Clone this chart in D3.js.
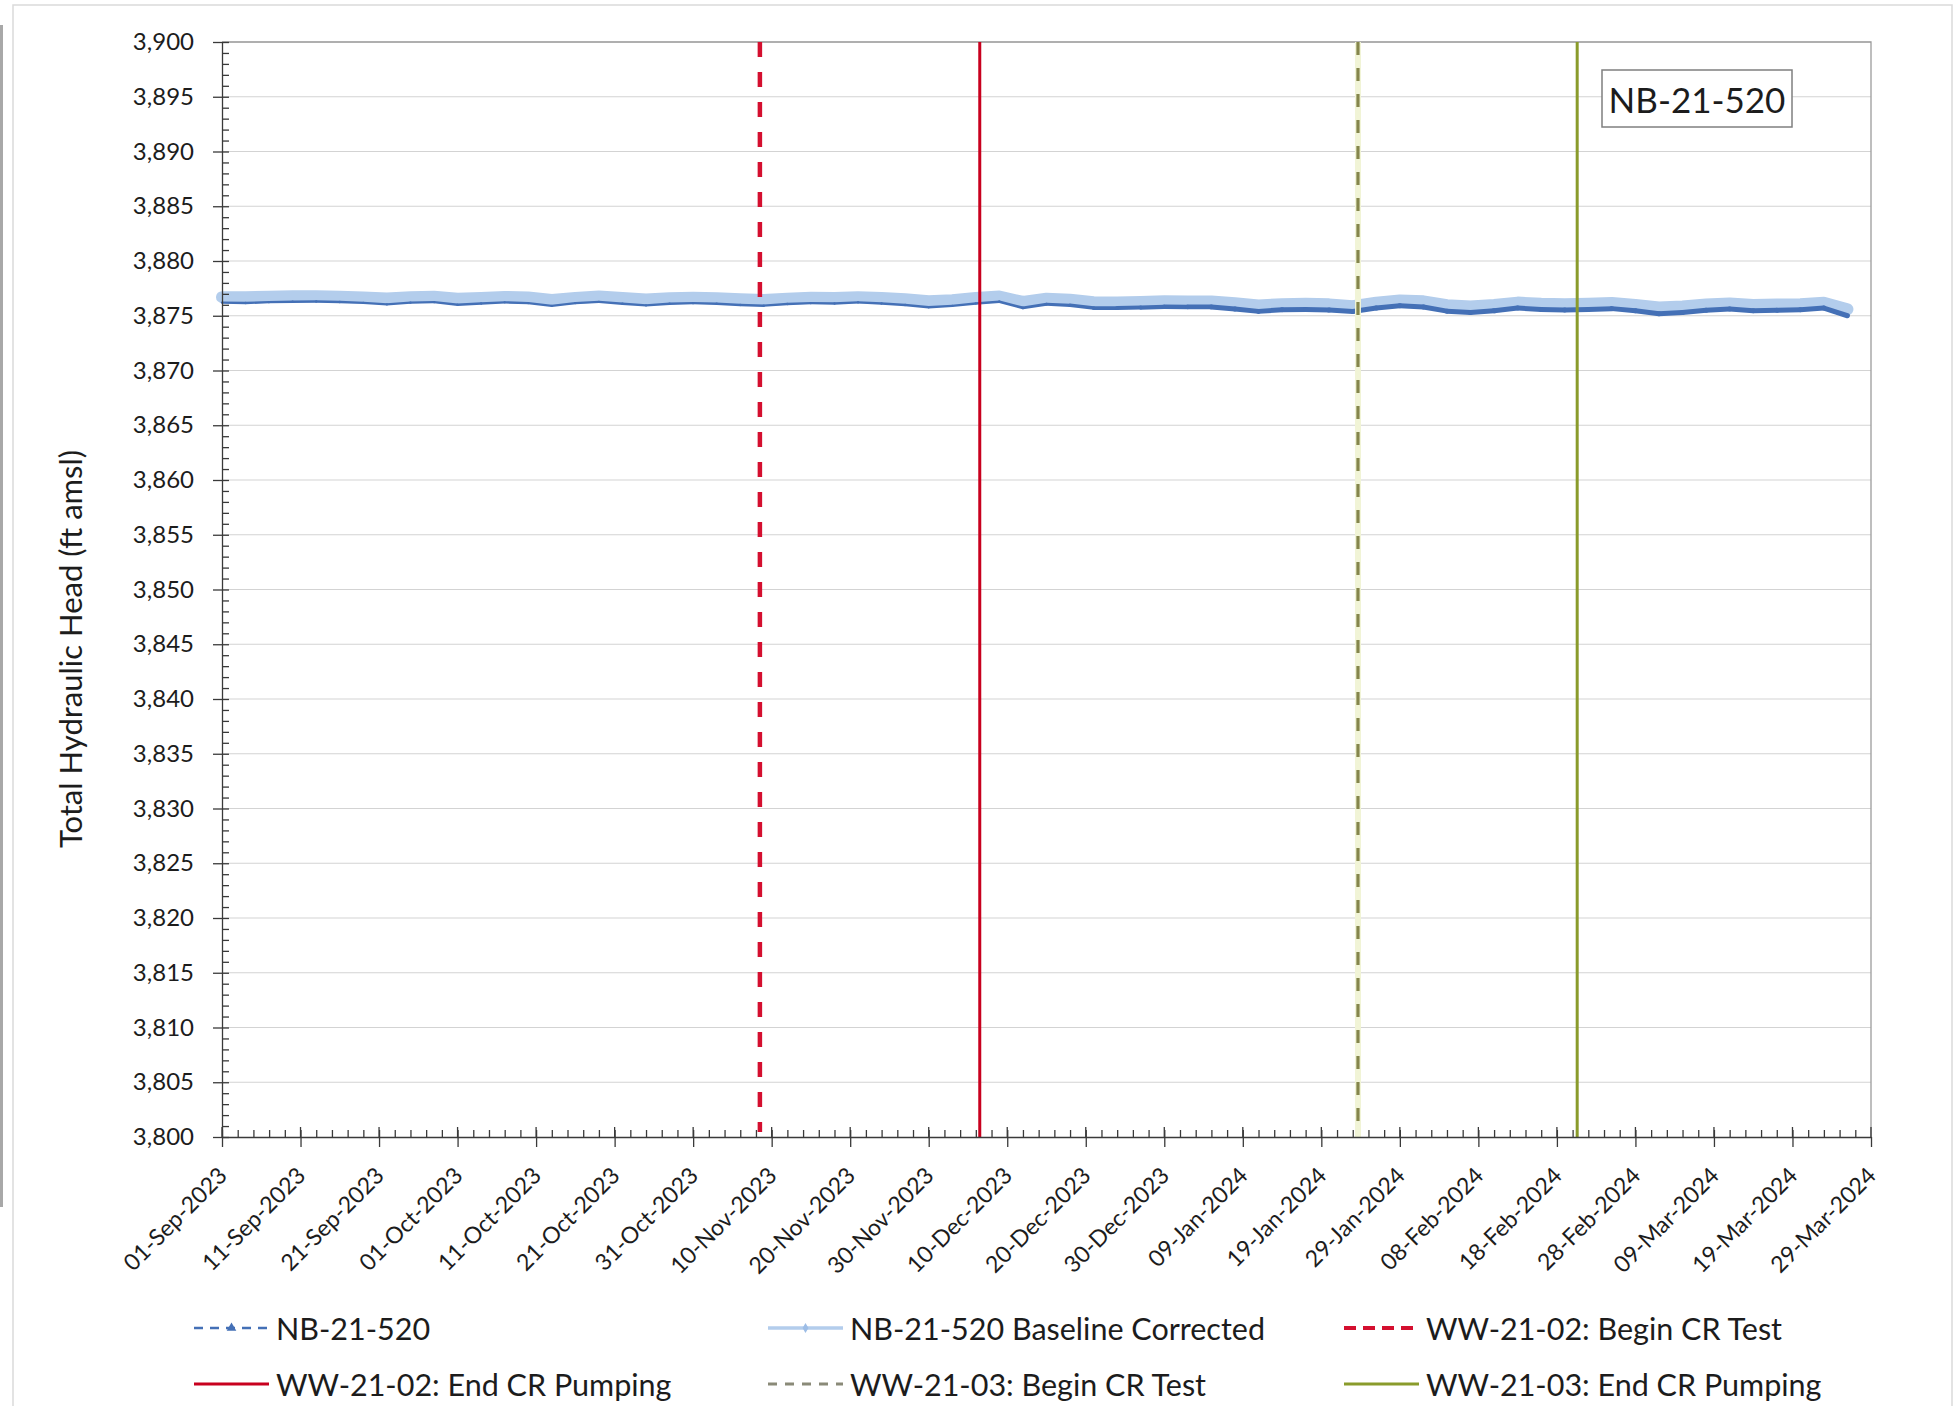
<!DOCTYPE html>
<html>
<head>
<meta charset="utf-8">
<script src="https://cdn.jsdelivr.net/npm/d3@7"></script>
<style>
  html, body { margin: 0; padding: 0; background: #ffffff; }
  svg { display: block; }
  text { font-family: Lato, "Open Sans", sans-serif; fill: #1c1c1c; }
</style>
</head>
<body>
<svg id="chart" width="1960" height="1406"></svg>
<script>
// ---- Data -------------------------------------------------------------
// Sample dates (every 3 days) for the NB-21-520 hydrograph
const sampleDates = [
  "2023-09-01","2023-09-04","2023-09-07","2023-09-10","2023-09-13","2023-09-16","2023-09-19","2023-09-22",
  "2023-09-25","2023-09-28","2023-10-01","2023-10-04","2023-10-07","2023-10-10","2023-10-13","2023-10-16",
  "2023-10-19","2023-10-22","2023-10-25","2023-10-28","2023-10-31","2023-11-03","2023-11-06","2023-11-09",
  "2023-11-12","2023-11-15","2023-11-18","2023-11-21","2023-11-24","2023-11-27","2023-11-30","2023-12-03",
  "2023-12-06","2023-12-09","2023-12-12","2023-12-15","2023-12-18","2023-12-21","2023-12-24","2023-12-27",
  "2023-12-30","2024-01-02","2024-01-05","2024-01-08","2024-01-11","2024-01-14","2024-01-17","2024-01-20",
  "2024-01-23","2024-01-26","2024-01-29","2024-02-01","2024-02-04","2024-02-07","2024-02-10","2024-02-13",
  "2024-02-16","2024-02-19","2024-02-22","2024-02-25","2024-02-28","2024-03-02","2024-03-05","2024-03-08",
  "2024-03-11","2024-03-14","2024-03-17","2024-03-20","2024-03-23","2024-03-26"
];

// Total hydraulic head, ft amsl
const nbHead = [
  3876.20,3876.16,3876.24,3876.28,3876.30,3876.25,3876.18,3876.04,
  3876.20,3876.24,3876.00,3876.12,3876.22,3876.15,3875.90,3876.15,
  3876.27,3876.10,3875.95,3876.10,3876.15,3876.10,3875.98,3875.92,
  3876.07,3876.15,3876.12,3876.22,3876.12,3875.98,3875.78,3875.90,
  3876.12,3876.28,3875.72,3876.05,3875.95,3875.70,3875.70,3875.75,
  3875.82,3875.80,3875.80,3875.62,3875.40,3875.55,3875.58,3875.52,
  3875.38,3875.70,3875.92,3875.80,3875.42,3875.30,3875.45,3875.70,
  3875.58,3875.52,3875.58,3875.65,3875.45,3875.18,3875.30,3875.50,
  3875.62,3875.45,3875.50,3875.55,3875.70,3875.00
];

const nbBaselineCorrected = [
  3876.70,3876.68,3876.74,3876.78,3876.78,3876.74,3876.66,3876.58,
  3876.68,3876.74,3876.55,3876.62,3876.72,3876.66,3876.45,3876.62,
  3876.75,3876.62,3876.48,3876.60,3876.65,3876.60,3876.50,3876.44,
  3876.56,3876.64,3876.62,3876.70,3876.62,3876.50,3876.32,3876.42,
  3876.62,3876.76,3876.26,3876.56,3876.46,3876.24,3876.22,3876.26,
  3876.32,3876.30,3876.30,3876.14,3875.94,3876.06,3876.10,3876.04,
  3875.88,3876.20,3876.40,3876.32,3875.96,3875.85,3875.98,3876.20,
  3876.10,3876.05,3876.10,3876.16,3875.98,3875.75,3875.85,3876.02,
  3876.12,3875.98,3876.02,3876.06,3876.18,3875.60
];

const seriesNames = ["NB-21-520", "NB-21-520 Baseline Corrected"];

// Pumping test events
const eventNames = [
  "WW-21-02: Begin CR Test",
  "WW-21-02: End CR Pumping",
  "WW-21-03: Begin CR Test",
  "WW-21-03: End CR Pumping"
];
const eventDates = ["2023-11-08T12:00", "2023-12-06T12:00", "2024-01-23T16:00", "2024-02-20T14:00"];

// Axis ticks
const xTickLabels = [
  "01-Sep-2023","11-Sep-2023","21-Sep-2023","01-Oct-2023","11-Oct-2023","21-Oct-2023","31-Oct-2023",
  "10-Nov-2023","20-Nov-2023","30-Nov-2023","10-Dec-2023","20-Dec-2023","30-Dec-2023","09-Jan-2024",
  "19-Jan-2024","29-Jan-2024","08-Feb-2024","18-Feb-2024","28-Feb-2024","09-Mar-2024","19-Mar-2024",
  "29-Mar-2024"
];
const yTickValues = [3800,3805,3810,3815,3820,3825,3830,3835,3840,3845,3850,
                     3855,3860,3865,3870,3875,3880,3885,3890,3895,3900];

const wellLabel = "NB-21-520";
const yTitle = "Total Hydraulic Head (ft amsl)";

// ---- Layout -------------------------------------------------------------
const plot = { left: 222, right: 1871, top: 42, bottom: 1137 };
const parseTick = d3.timeParse("%d-%b-%Y");
const parseIso = d3.isoParse;
const tickDates = xTickLabels.map(parseTick);

const x = d3.scaleTime()
  .domain([tickDates[0], tickDates[tickDates.length - 1]])
  .range([plot.left, plot.right]);
const y = d3.scaleLinear()
  .domain([yTickValues[0], yTickValues[yTickValues.length - 1]])
  .range([plot.bottom, plot.top]);

const svg = d3.select("#chart");

// Outer chart frame and the grey strip along the left edge of the sheet
svg.append("rect")
  .attr("x", 13).attr("y", 5).attr("width", 1939).attr("height", 1440)
  .attr("fill", "none").attr("stroke", "#dadada").attr("stroke-width", 1.5);
svg.append("line")
  .attr("x1", 1.5).attr("x2", 1.5).attr("y1", 25).attr("y2", 1207)
  .attr("stroke", "#a8a8a8").attr("stroke-width", 3);

// Horizontal gridlines
svg.append("g").selectAll("line")
  .data(yTickValues.slice(1))
  .join("line")
  .attr("x1", plot.left).attr("x2", plot.right)
  .attr("y1", d => y(d)).attr("y2", d => y(d))
  .attr("stroke", "#d3d3d3").attr("stroke-width", 1.2);

// Plot area border (top and right)
svg.append("path")
  .attr("d", `M${plot.left},${plot.top}H${plot.right}V${plot.bottom}`)
  .attr("fill", "none").attr("stroke", "#9c9c9c").attr("stroke-width", 1.3);

// ---- Series -------------------------------------------------------------
const dates = sampleDates.map(parseIso);

const baselineLine = d3.line()
  .x((d, i) => x(dates[i]))
  .y(d => y(d));

svg.append("path")
  .datum(nbBaselineCorrected)
  .attr("d", baselineLine)
  .attr("fill", "none")
  .attr("stroke", "#b3cdec")
  .attr("stroke-width", 12)
  .attr("stroke-linejoin", "round")
  .attr("stroke-linecap", "round");

// The measured record is drawn segment by segment; it reads heavier from December on
const widthScale = d3.scaleTime()
  .domain([parseIso("2023-12-05"), parseIso("2024-01-05")])
  .range([2.4, 5])
  .clamp(true);

const segs = d3.pairs(d3.range(nbHead.length));
svg.append("g").selectAll("line")
  .data(segs)
  .join("line")
  .attr("x1", d => x(dates[d[0]])).attr("y1", d => y(nbHead[d[0]]))
  .attr("x2", d => x(dates[d[1]])).attr("y2", d => y(nbHead[d[1]]))
  .attr("stroke", "#4470b6")
  .attr("stroke-width", d => widthScale(dates[d[0]]))
  .attr("stroke-linecap", "round");

// ---- Event lines --------------------------------------------------------
const eventStyles = [
  { color: "#d40f2f", width: 4.5, dash: "15,15", halo: null },
  { color: "#c8001e", width: 3, dash: null, halo: null },
  { color: "#85864c", width: 3.2, dash: "13,13", halo: "#f1f4d6" },
  { color: "#8a9b2b", width: 3, dash: null, halo: null }
];

const evG = svg.append("g");
eventDates.forEach((d, i) => {
  const xe = x(parseIso(d));
  const st = eventStyles[i];
  if (st.halo) {
    evG.append("line")
      .attr("x1", xe).attr("x2", xe).attr("y1", plot.top).attr("y2", plot.bottom)
      .attr("stroke", st.halo).attr("stroke-width", 6);
  }
  evG.append("line")
    .attr("x1", xe).attr("x2", xe)
    .attr("y1", plot.top).attr("y2", st.dash ? plot.bottom - 5 : plot.bottom)
    .attr("stroke", st.color).attr("stroke-width", st.width)
    .attr("stroke-dasharray", st.dash);
});

// ---- Axes ---------------------------------------------------------------
const axisColor = "#3a3a3a";

// Y axis: major ticks outward with labels, 1-ft ticks inward
const yAxis = svg.append("g")
  .attr("transform", `translate(${plot.left},0)`)
  .call(d3.axisLeft(y).tickValues(yTickValues).tickFormat(d3.format(","))
    .tickSizeInner(9).tickSizeOuter(0).tickPadding(19));
yAxis.selectAll("text").style("font-size", "24px").attr("fill", "#1c1c1c");

svg.append("g")
  .attr("transform", `translate(${plot.left},0)`)
  .call(d3.axisRight(y).tickValues(d3.range(yTickValues[0], yTickValues[yTickValues.length - 1] + 1, 1))
    .tickSizeInner(7).tickSizeOuter(0).tickFormat(""))
  .select(".domain").remove();

// X axis: major ticks every 10 days with rotated date labels, 2-day ticks inward
const xAxis = svg.append("g")
  .attr("transform", `translate(0,${plot.bottom})`)
  .call(d3.axisBottom(x).tickValues(tickDates).tickFormat((d, i) => xTickLabels[i])
    .tickSizeInner(10).tickSizeOuter(0));
xAxis.selectAll("text")
  .style("font-size", "23px")
  .attr("fill", "#1c1c1c")
  .attr("x", 0).attr("y", 0).attr("dy", 0)
  .attr("text-anchor", "end")
  .attr("transform", "translate(6,40) rotate(-45)");

svg.append("g")
  .attr("transform", `translate(0,${plot.bottom})`)
  .call(d3.axisTop(x).tickValues(d3.timeDay.range(tickDates[0], tickDates[tickDates.length - 1], 2))
    .tickSizeInner(7).tickSizeOuter(0).tickFormat(""))
  .select(".domain").remove();

svg.selectAll(".domain, .tick line").attr("stroke", axisColor).attr("stroke-width", 1.3);

// Major ticks also cross into the plot a little
svg.append("g").selectAll("line").data(tickDates).join("line")
  .attr("x1", d => x(d)).attr("x2", d => x(d))
  .attr("y1", plot.bottom).attr("y2", plot.bottom - 10)
  .attr("stroke", axisColor).attr("stroke-width", 1.3);

// Y axis title
svg.append("text")
  .attr("transform", "translate(70,649) rotate(-90)")
  .attr("text-anchor", "middle")
  .attr("dominant-baseline", "central")
  .style("font-size", "31px")
  .text(yTitle);

// Well name box
const boxG = svg.append("g");
boxG.append("rect")
  .attr("x", 1602).attr("y", 70).attr("width", 190).attr("height", 57)
  .attr("fill", "#ffffff").attr("stroke", "#7f7f7f").attr("stroke-width", 1.5);
boxG.append("text")
  .attr("x", 1697).attr("y", 99)
  .attr("text-anchor", "middle")
  .attr("dominant-baseline", "central")
  .style("font-size", "35px")
  .text(wellLabel);

// ---- Legend -------------------------------------------------------------
const legendItems = [
  { name: seriesNames[0], col: 0, row: 0, kind: "nb" },
  { name: seriesNames[1], col: 1, row: 0, kind: "base" },
  { name: eventNames[0], col: 2, row: 0, kind: "ev0" },
  { name: eventNames[1], col: 0, row: 1, kind: "ev1" },
  { name: eventNames[2], col: 1, row: 1, kind: "ev2" },
  { name: eventNames[3], col: 2, row: 1, kind: "ev3" }
];
const colSample = [194, 768, 1344];
const rowY = [1328, 1384];
const sampleLen = 75;

const lg = svg.append("g");
legendItems.forEach(it => {
  const x0 = colSample[it.col], x1 = x0 + sampleLen, yy = rowY[it.row];
  const g = lg.append("g");
  if (it.kind === "nb") {
    g.append("line").attr("x1", x0).attr("x2", x1).attr("y1", yy).attr("y2", yy)
      .attr("stroke", "#4470b6").attr("stroke-width", 2.5).attr("stroke-dasharray", "9,7");
    g.append("path")
      .attr("d", d3.symbol(d3.symbolTriangle, 40)())
      .attr("transform", `translate(${(x0 + x1) / 2},${yy})`)
      .attr("fill", "#4470b6");
  } else if (it.kind === "base") {
    g.append("line").attr("x1", x0).attr("x2", x1).attr("y1", yy).attr("y2", yy)
      .attr("stroke", "#b3cdec").attr("stroke-width", 3.5);
    g.append("path")
      .attr("d", d3.symbol(d3.symbolDiamond, 30)())
      .attr("transform", `translate(${(x0 + x1) / 2},${yy})`)
      .attr("fill", "#9dbde6");
  } else {
    const idx = +it.kind.slice(2);
    const st = eventStyles[idx];
    g.append("line").attr("x1", x0).attr("x2", x1).attr("y1", yy).attr("y2", yy)
      .attr("stroke", idx === 2 ? "#8a8a78" : st.color)
      .attr("stroke-width", idx === 0 ? 4 : 3)
      .attr("stroke-dasharray", idx === 0 ? "12,7" : (idx === 2 ? "9,8" : null));
  }
  g.append("text")
    .attr("x", x1 + 7).attr("y", yy)
    .attr("dominant-baseline", "central")
    .style("font-size", "30.5px")
    .text(it.name);
});
</script>
</body>
</html>
